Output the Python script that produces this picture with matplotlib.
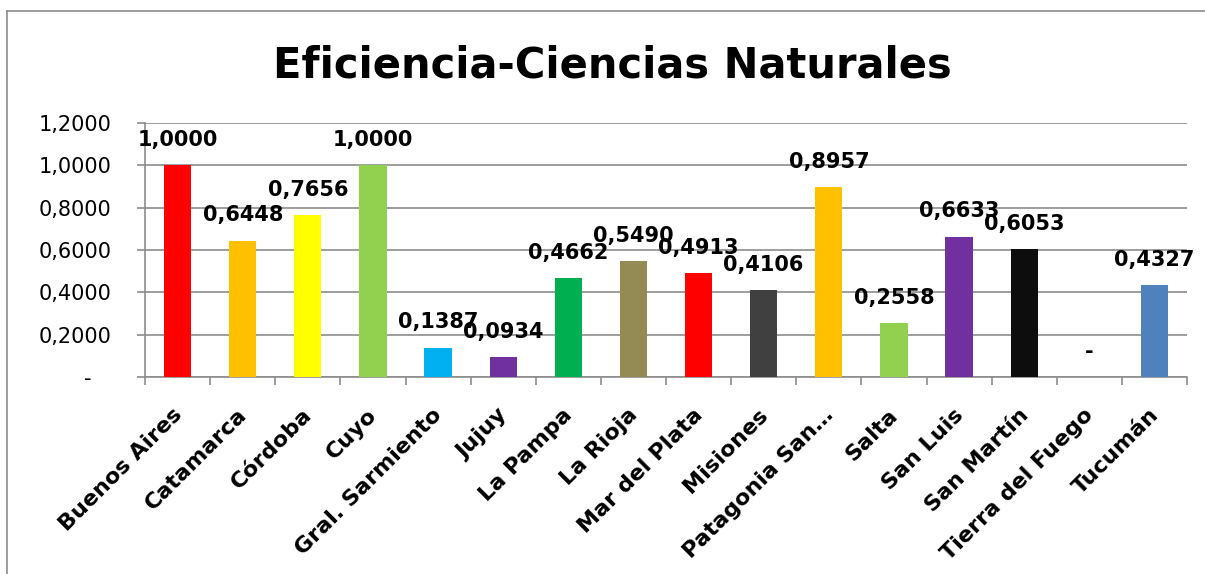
import numpy as np
import matplotlib
matplotlib.use("Agg")
import matplotlib.pyplot as plt
from matplotlib.lines import Line2D
from matplotlib.transforms import ScaledTranslation

# Datos del grafico
regiones = ["Buenos Aires", "Catamarca", "Córdoba", "Cuyo", "Gral. Sarmiento",
            "Jujuy", "La Pampa", "La Rioja", "Mar del Plata", "Misiones",
            "Patagonia San…", "Salta", "San Luis", "San Martín",
            "Tierra del Fuego", "Tucumán"]
eficiencia = [1.0000, 0.6448, 0.7656, 1.0000, 0.1387, 0.0934, 0.4662, 0.5490,
              0.4913, 0.4106, 0.8957, 0.2558, 0.6633, 0.6053, 0.0, 0.4327]
colores = ["#FF0000", "#FFC000", "#FFFF00", "#92D050", "#00B0F0", "#7030A0",
           "#00B050", "#948A54", "#FF0000", "#404040", "#FFC000", "#92D050",
           "#7030A0", "#0D0D0D", "#FFFFFF", "#4F81BD"]
y_ticks = [0.0, 0.2, 0.4, 0.6, 0.8, 1.0, 1.2]


def fmt(v):
    # formato con coma decimal, cero como guion
    if v == 0:
        return "-"
    return f"{v:.4f}".replace(".", ",")


gris = "#8C8C8C"
plt.rcParams["font.family"] = ["DejaVu Sans"]

fig = plt.figure(figsize=(12.05, 5.74), dpi=100)
ax = fig.add_axes([145 / 1205, 1 - 377 / 574, (1187 - 145) / 1205, (377 - 123) / 574])

x = np.arange(len(regiones))
ax.bar(x, eficiencia, width=0.42, color=colores, zorder=3)

for xi, v in zip(x, eficiencia):
    ax.annotate(fmt(v), (xi, v), xytext=(0, 11), textcoords="offset points",
                ha="center", va="bottom", fontsize=15, fontweight="bold", zorder=4)

ax.set_ylim(0, 1.2)
ax.set_xlim(-0.5, len(regiones) - 0.5)
ax.set_yticks(y_ticks)
ax.set_yticklabels([fmt(v) + ("   " if v == 0 else "") for v in y_ticks], fontsize=15)
ax.yaxis.grid(True, color=gris, linewidth=1.2, zorder=0)
ax.tick_params(axis="y", length=6, width=1.2, color=gris, pad=18)

ax.set_xticks(x)
ax.set_xticklabels(regiones, rotation=45, ha="right", rotation_mode="anchor",
                   fontsize=16, fontweight="bold")
ax.set_xticks(np.arange(-0.5, len(regiones)), minor=True)
ax.tick_params(axis="x", which="major", length=0, pad=20)
ax.tick_params(axis="x", which="minor", length=6, width=1.2, color=gris)

# desplazar un poco las etiquetas a la izquierda
shift = ScaledTranslation(-6 / 100, 0, fig.dpi_scale_trans)
for lbl in ax.get_xticklabels():
    lbl.set_transform(lbl.get_transform() + shift)

for s in ["top", "right"]:
    ax.spines[s].set_visible(False)
for s in ["left", "bottom"]:
    ax.spines[s].set_color(gris)
    ax.spines[s].set_linewidth(1.2)

fig.text(0.508, 1 - 78 / 574, "Eficiencia-Ciencias Naturales", ha="center",
         va="baseline", fontsize=30, fontweight="bold")

# marco exterior del grafico
bx, by = 6.5 / 1205, 1 - 11 / 574
fig.add_artist(Line2D([bx, bx], [0, by], color=gris, linewidth=1.2))
fig.add_artist(Line2D([bx, 1], [by, by], color=gris, linewidth=1.2))

fig.savefig("out.png", dpi=100)
